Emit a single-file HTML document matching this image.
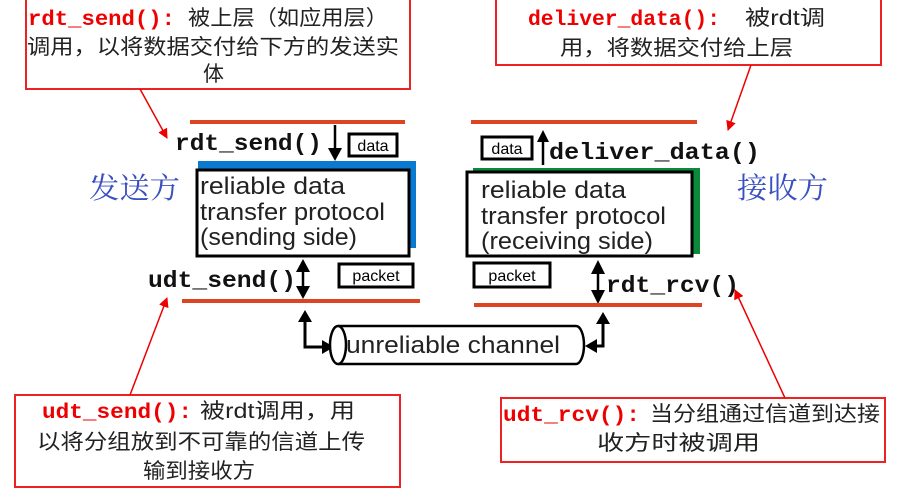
<!DOCTYPE html>
<html><head><meta charset="utf-8"><style>
body{margin:0;background:#fff;width:906px;height:490px;overflow:hidden}
.m{font-family:"Liberation Mono",monospace;font-weight:bold}
.c{font-family:"Liberation Sans","Noto Sans CJK SC",sans-serif}
.s{font-family:"Liberation Sans",sans-serif}
</style></head><body>
<svg width="906" height="490" viewBox="0 0 906 490" xmlns="http://www.w3.org/2000/svg">
<defs>
<marker id="ra" markerWidth="10" markerHeight="10" refX="9" refY="5" orient="auto" markerUnits="userSpaceOnUse"><path d="M0,0 L10,5 L0,10 z" fill="#e00"/></marker>
</defs>
<!-- callout boxes -->
<rect x="26" y="-2" width="384" height="91" fill="#fff" stroke="#e22" stroke-width="2"/>
<text x="28" y="25" font-size="21" class="m" fill="#e00" textLength="147" lengthAdjust="spacingAndGlyphs">rdt_send():</text>
<text x="188" y="25" font-size="21" class="c" fill="#222" textLength="200" lengthAdjust="spacingAndGlyphs">被上层（如应用层）</text>
<text x="27" y="54" font-size="21" class="c" fill="#222" textLength="372" lengthAdjust="spacingAndGlyphs">调用，以将数据交付给下方的发送实</text>
<text x="203" y="81" font-size="21" class="c" fill="#222">体</text>

<rect x="496" y="-2" width="385" height="67" fill="#fff" stroke="#e22" stroke-width="2"/>
<text x="528" y="25" font-size="21" class="m" fill="#e00" textLength="192" lengthAdjust="spacingAndGlyphs">deliver_data():</text>
<text x="745" y="25" font-size="21" class="c" fill="#222" textLength="80" lengthAdjust="spacingAndGlyphs">被rdt调</text>
<text x="560" y="55" font-size="21" class="c" fill="#222" textLength="233" lengthAdjust="spacingAndGlyphs">用，将数据交付给上层</text>

<rect x="15" y="395" width="385" height="92" fill="#fff" stroke="#e22" stroke-width="2"/>
<text x="42" y="418" font-size="21" class="m" fill="#e00" textLength="150" lengthAdjust="spacingAndGlyphs">udt_send():</text>
<text x="200" y="418" font-size="21" class="c" fill="#222" textLength="155" lengthAdjust="spacingAndGlyphs">被rdt调用，用</text>
<text x="37" y="449" font-size="21" class="c" fill="#222" textLength="328" lengthAdjust="spacingAndGlyphs">以将分组放到不可靠的信道上传</text>
<text x="143" y="478" font-size="21" class="c" fill="#222" textLength="112" lengthAdjust="spacingAndGlyphs">输到接收方</text>

<rect x="501" y="398" width="384" height="64" fill="#fff" stroke="#e22" stroke-width="2"/>
<text x="503" y="421" font-size="21" class="m" fill="#e00" textLength="137" lengthAdjust="spacingAndGlyphs">udt_rcv():</text>
<text x="650" y="421" font-size="21" class="c" fill="#222" textLength="230" lengthAdjust="spacingAndGlyphs">当分组通过信道到达接</text>
<text x="597" y="450" font-size="21" class="c" fill="#222" textLength="163" lengthAdjust="spacingAndGlyphs">收方时被调用</text>

<!-- callout pointers -->
<line x1="140" y1="89" x2="167" y2="138" stroke="#e00" stroke-width="1.5" marker-end="url(#ra)"/>
<line x1="751" y1="65" x2="728" y2="130" stroke="#e00" stroke-width="1.5" marker-end="url(#ra)"/>
<line x1="130" y1="395" x2="167" y2="298" stroke="#e00" stroke-width="1.5" marker-end="url(#ra)"/>
<line x1="785" y1="398" x2="735" y2="290" stroke="#e00" stroke-width="1.5" marker-end="url(#ra)"/>

<!-- side labels -->
<text x="89" y="198" font-size="29" fill="#3a4fc0" font-family="'Noto Serif CJK SC',serif" textLength="91" lengthAdjust="spacingAndGlyphs">发送方</text>
<text x="737" y="198" font-size="29" fill="#3a4fc0" font-family="'Noto Serif CJK SC',serif" textLength="91" lengthAdjust="spacingAndGlyphs">接收方</text>

<!-- sender -->
<line x1="190" y1="122" x2="405" y2="122" stroke="#d42" stroke-width="4"/>
<text x="175" y="150" font-size="23" class="m" fill="#111" textLength="147" lengthAdjust="spacingAndGlyphs">rdt_send()</text>
<line x1="335" y1="125" x2="335" y2="150" stroke="#000" stroke-width="2.5"/>
<path d="M328,148 L335,161 L342,148 z" fill="#000"/>
<rect x="349" y="134" width="48" height="22" fill="#fff" stroke="#000" stroke-width="3"/>
<text x="373" y="151" font-size="16" class="s" text-anchor="middle">data</text>
<rect x="198" y="161" width="218" height="87" fill="#0a7ad0"/>
<rect x="197" y="170" width="212" height="86" fill="#fff" stroke="#000" stroke-width="3"/>
<text x="200" y="194" font-size="24" class="s" fill="#222" textLength="145" lengthAdjust="spacingAndGlyphs">reliable data</text>
<text x="200" y="220" font-size="24" class="s" fill="#222" textLength="185" lengthAdjust="spacingAndGlyphs">transfer protocol</text>
<text x="200" y="245" font-size="24" class="s" fill="#222" textLength="157" lengthAdjust="spacingAndGlyphs">(sending side)</text>
<text x="148" y="287" font-size="23" class="m" fill="#111" textLength="148" lengthAdjust="spacingAndGlyphs">udt_send()</text>
<line x1="303" y1="270" x2="303" y2="288" stroke="#000" stroke-width="2.5"/>
<path d="M296,272 L303,259 L310,272 z M296,286 L303,299 L310,286 z" fill="#000"/>
<rect x="339" y="264" width="74" height="23" fill="#fff" stroke="#000" stroke-width="3"/>
<text x="376" y="281" font-size="16" class="s" text-anchor="middle">packet</text>
<line x1="182" y1="301" x2="420" y2="301" stroke="#d42" stroke-width="4"/>
<path d="M305,318 L305,347 L325,347" fill="none" stroke="#000" stroke-width="3"/>
<path d="M298,322 L305,310 L312,322 z M322,340 L334,347 L322,354 z" fill="#000"/>

<!-- channel -->
<path d="M338,326 L576,326 A8,19 0 0 1 576,364 L338,364" fill="#fff" stroke="#000" stroke-width="2.5"/>
<ellipse cx="338" cy="345" rx="8" ry="19" fill="#fff" stroke="#000" stroke-width="2.5"/>
<text x="346" y="353" font-size="24" class="s" fill="#222" textLength="214" lengthAdjust="spacingAndGlyphs">unreliable channel</text>

<!-- receiver -->
<line x1="471" y1="122" x2="697" y2="122" stroke="#d42" stroke-width="4"/>
<rect x="482" y="137" width="50" height="22" fill="#fff" stroke="#000" stroke-width="3"/>
<text x="507" y="154" font-size="16" class="s" text-anchor="middle">data</text>
<line x1="543" y1="165" x2="543" y2="138" stroke="#000" stroke-width="2.5"/>
<path d="M537,142 L543,130 L549,142 z" fill="#000"/>
<text x="549" y="159" font-size="23" class="m" fill="#111" textLength="211" lengthAdjust="spacingAndGlyphs">deliver_data()</text>
<rect x="473" y="168" width="227" height="86" fill="#0a8a3a"/>
<rect x="467" y="172" width="225" height="84" fill="#fff" stroke="#000" stroke-width="3"/>
<text x="481" y="198" font-size="24" class="s" fill="#222" textLength="145" lengthAdjust="spacingAndGlyphs">reliable data</text>
<text x="481" y="224" font-size="24" class="s" fill="#222" textLength="185" lengthAdjust="spacingAndGlyphs">transfer protocol</text>
<text x="481" y="249" font-size="24" class="s" fill="#222" textLength="172" lengthAdjust="spacingAndGlyphs">(receiving side)</text>
<rect x="474" y="263" width="76" height="24" fill="#fff" stroke="#000" stroke-width="3"/>
<text x="512" y="281" font-size="16" class="s" text-anchor="middle">packet</text>
<line x1="598" y1="272" x2="598" y2="292" stroke="#000" stroke-width="2.5"/>
<path d="M591,274 L598,260 L605,274 z M591,290 L598,304 L605,290 z" fill="#000"/>
<text x="606" y="292" font-size="23" class="m" fill="#111" textLength="133" lengthAdjust="spacingAndGlyphs">rdt_rcv()</text>
<line x1="474" y1="305" x2="702" y2="305" stroke="#d42" stroke-width="4"/>
<path d="M603,322 L603,346 L594,346" fill="none" stroke="#000" stroke-width="3"/>
<path d="M596,324 L603,312 L610,324 z M597,339 L585,346 L597,353 z" fill="#000"/>
</svg>
</body></html>
